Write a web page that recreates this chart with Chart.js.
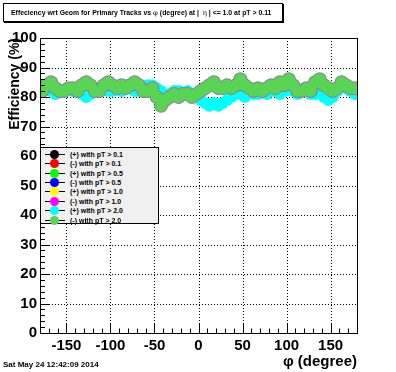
<!DOCTYPE html>
<html>
<head>
<meta charset="utf-8">
<script src="https://cdn.jsdelivr.net/npm/chart.js@4.4.1/dist/chart.umd.min.js"></script>
<style>
  html, body { margin:0; padding:0; background:#fff; }
  #wrap { position:relative; width:396px; height:372px; overflow:hidden; background:#fff; font-family:"Liberation Sans", Arial, sans-serif; }
  #c { position:absolute; left:0; top:0; }
  #title { position:absolute; left:3px; top:3px; width:271px; height:17px; border:1px solid #000; box-shadow:1px 1px 0 #000; background:#fff;
           font-weight:bold; font-size:6.9px; line-height:17px; padding-left:7px; box-sizing:content-box; white-space:nowrap; }
  #title .sym { font-weight:normal; font-family:"DejaVu Serif", serif; }
  #date { position:absolute; left:3px; top:360px; font-weight:bold; font-size:8px; white-space:nowrap; }
  #legend { position:absolute; left:40px; top:147px; width:117px; height:75px; border:1px solid #000; background:#f0f0f0; }
  .row { position:absolute; left:0; height:9px; width:117px; }
  .row .ln { position:absolute; left:4px; width:20px; top:4px; height:1px; background:#000; }
  .row .mk { position:absolute; left:9px; top:0px; width:9px; height:9px; border-radius:50%; }
  .row .tx { position:absolute; left:29px; top:0px; font-weight:bold; font-size:7px; line-height:9px; white-space:nowrap; }
</style>
</head>
<body>
<div id="wrap">
  <canvas id="c" width="396" height="372"></canvas>
  <div id="title">Effeciency wrt Geom for Primary Tracks vs <span class="sym">φ</span> (degree) at |&nbsp;&nbsp;<span class="sym">η</span> | &lt;= 1.0 at pT &gt; 0.11</div>
  <div id="date">Sat May 24 12:42:09 2014</div>
  <div id="legend"></div>
</div>
<script>
// ---------------- data ----------------
const phiValues = [-177.5,-172.5,-167.5,-162.5,-157.5,-152.5,-147.5,-142.5,-137.5,-132.5,
  -127.5,-122.5,-117.5,-112.5,-107.5,-102.5,-97.5,-92.5,-87.5,-82.5,
  -77.5,-72.5,-67.5,-62.5,-57.5,-52.5,-47.5,-42.5,-37.5,-32.5,
  -27.5,-22.5,-17.5,-12.5,-7.5,-2.5,2.5,7.5,12.5,17.5,
  22.5,27.5,32.5,37.5,42.5,47.5,52.5,57.5,62.5,67.5,
  72.5,77.5,82.5,87.5,92.5,97.5,102.5,107.5,112.5,117.5,
  122.5,127.5,132.5,137.5,142.5,147.5,152.5,157.5,162.5,167.5,
  172.5,177.5];

const effPosPt20 = [83,83,82,81,82,82,83,82,82,81,
  80,81,82,83,83,82,82,83,82,84,
  83,82,82,83,84,84,83,82,80,81,
  82,82,81,82,81,80,79,78,77,78,
  77,78,79,80,82,81,80,82,81,81,
  82,81,82,82,81,82,83,82,81,82,
  82,81,81,82,80,79,80,82,84,83,
  82,81];

const effNegPt20 = [82,84,85,83,82,82,83,83,82,84,
  85,84,82,82,84,85,84,83,84,83,
  84,85,84,82,82,83,80,77,79,80,
  81,80,81,81,80,81,82,83,84,85,
  83,83,84,83,84,86,84,83,82,83,
  82,83,84,83,85,84,86,84,82,82,
  83,82,85,86,84,83,82,83,85,84,
  83,83];

const seriesLabels = ["(+) with pT > 0.1","(-) with pT > 0.1","(+) with pT > 0.5","(-) with pT > 0.5",
                      "(+) with pT > 1.0","(-) with pT > 1.0","(+) with pT > 2.0","(-) with pT > 2.0"];
const seriesColors = ["#000000","#ff0000","#00ff00","#0000ff","#ffff00","#ff00ff","#00ffff","#59d454"];
const outlineColor = "#8c8296";
const xTickValues = [-150,-100,-50,0,50,100,150];
const yTickValues = [0,10,20,30,40,50,60,70,80,90,100];

// ---------------- datasets ----------------
function pts(vals){ return vals.map((v,i)=>({x:phiValues[i], y:v})); }
const seriesData = [[],[],[],[],[],[],pts(effPosPt20),pts(effNegPt20)];

const datasets = seriesLabels.map((lab,i)=>({
  label: lab,
  data: seriesData[i],
  backgroundColor: seriesColors[i],
  borderColor: seriesColors[i],
  borderWidth: 0,
  pointRadius: 6,
  pointHoverRadius: 6,
  showLine: false,
  clip: 0,
  order: 7 - i
}));

// ---------------- ROOT-like frame plugin ----------------
const rootFrame = {
  id: 'rootFrame',
  beforeDatasetsDraw(chart){
    const {ctx, chartArea:a, scales:{x,y}} = chart;
    ctx.save();
    ctx.strokeStyle = '#000'; ctx.lineWidth = 1; ctx.setLineDash([1,2]);
    xTickValues.forEach(v=>{
      const px = Math.round(x.getPixelForValue(v)) + 0.5;
      ctx.beginPath(); ctx.moveTo(px, a.top); ctx.lineTo(px, a.bottom); ctx.stroke();
    });
    yTickValues.forEach(v=>{
      if (v<=y.min || v>=y.max) return;
      const py = Math.round(y.getPixelForValue(v)) + 0.5;
      ctx.beginPath(); ctx.moveTo(a.left, py); ctx.lineTo(a.right, py); ctx.stroke();
    });
    ctx.restore();
  },
  beforeDatasetDraw(chart, args){
    // grey outline beneath the light-green markers (only visible at the band edges)
    if (args.index !== 7) return;
    const {ctx, chartArea:a} = chart;
    ctx.save();
    ctx.beginPath(); ctx.rect(a.left, a.top, a.right-a.left, a.bottom-a.top); ctx.clip();
    ctx.fillStyle = outlineColor;
    args.meta.data.forEach(p=>{
      ctx.beginPath(); ctx.arc(p.x, p.y, 7, 0, Math.PI*2); ctx.fill();
    });
    ctx.restore();
  },
  afterDatasetsDraw(chart){
    const {ctx, chartArea:a, scales:{x,y}} = chart;
    ctx.save();
    ctx.setLineDash([]); ctx.strokeStyle = '#000'; ctx.lineWidth = 1;
    ctx.strokeRect(Math.round(a.left)+0.5, Math.round(a.top)+0.5, Math.round(a.right-a.left), Math.round(a.bottom-a.top));
    for (let v=y.min; v<=y.max; v+=2){
      const py = Math.round(y.getPixelForValue(v)) + 0.5;
      const len = (v % 10 === 0) ? 9 : 5;
      ctx.beginPath(); ctx.moveTo(a.left, py); ctx.lineTo(a.left+len, py); ctx.stroke();
    }
    for (let v=x.min; v<=x.max; v+=10){
      const px = Math.round(x.getPixelForValue(v)) + 0.5;
      const len = (v % 50 === 0) ? 9 : 4.5;
      ctx.beginPath(); ctx.moveTo(px, a.bottom); ctx.lineTo(px, a.bottom-len); ctx.stroke();
    }
    ctx.restore();
  }
};

const tickFont = {family:'"Liberation Sans", Arial, sans-serif', size:15, weight:'bold'};

new Chart(document.getElementById('c'), {
  type: 'scatter',
  data: { datasets },
  options: {
    responsive: false,
    animation: false,
    events: [],
    layout: { padding: { left:0, top:38, right:39, bottom:0 } },
    plugins: { legend:{display:false}, title:{display:false}, tooltip:{enabled:false} },
    scales: {
      x: {
        type:'linear', min:-180, max:180,
        afterBuildTicks: s => { s.ticks = xTickValues.map(v=>({value:v})); },
        afterFit: s => { s.height = 39; },
        grid: { display:false, drawTicks:false },
        border: { display:false },
        ticks: { color:'#000', font:tickFont, padding:4, maxRotation:0, autoSkip:false },
        title: { display:true, text:'φ (degree)', align:'end', color:'#000',
                 font:{family:'"Liberation Sans", Arial, sans-serif', size:15, weight:'bold'}, padding:{top:0,bottom:1} }
      },
      y: {
        type:'linear', min:0, max:100,
        afterBuildTicks: s => { s.ticks = yTickValues.map(v=>({value:v})); },
        afterFit: s => { s.width = 40; },
        grid: { display:false, drawTicks:false },
        border: { display:false },
        ticks: { color:'#000', font:tickFont, padding:3, autoSkip:false },
        title: { display:true, text:'Efficiency (%)', align:'end', color:'#000',
                 font:{family:'"Liberation Sans", Arial, sans-serif', size:14, weight:'bold'}, padding:{top:7,bottom:0} }
      }
    }
  },
  plugins: [rootFrame]
});

// ---------------- legend ----------------
const leg = document.getElementById('legend');
seriesLabels.forEach((lab,i)=>{
  const r = document.createElement('div');
  r.className = 'row';
  r.style.top = (1.8 + 9.4*i) + 'px';
  const ln = document.createElement('div'); ln.className='ln';
  const mk = document.createElement('div'); mk.className='mk'; mk.style.background = seriesColors[i];
  const tx = document.createElement('div'); tx.className='tx'; tx.textContent = lab;
  r.appendChild(ln); r.appendChild(mk); r.appendChild(tx);
  leg.appendChild(r);
});
</script>
</body>
</html>
